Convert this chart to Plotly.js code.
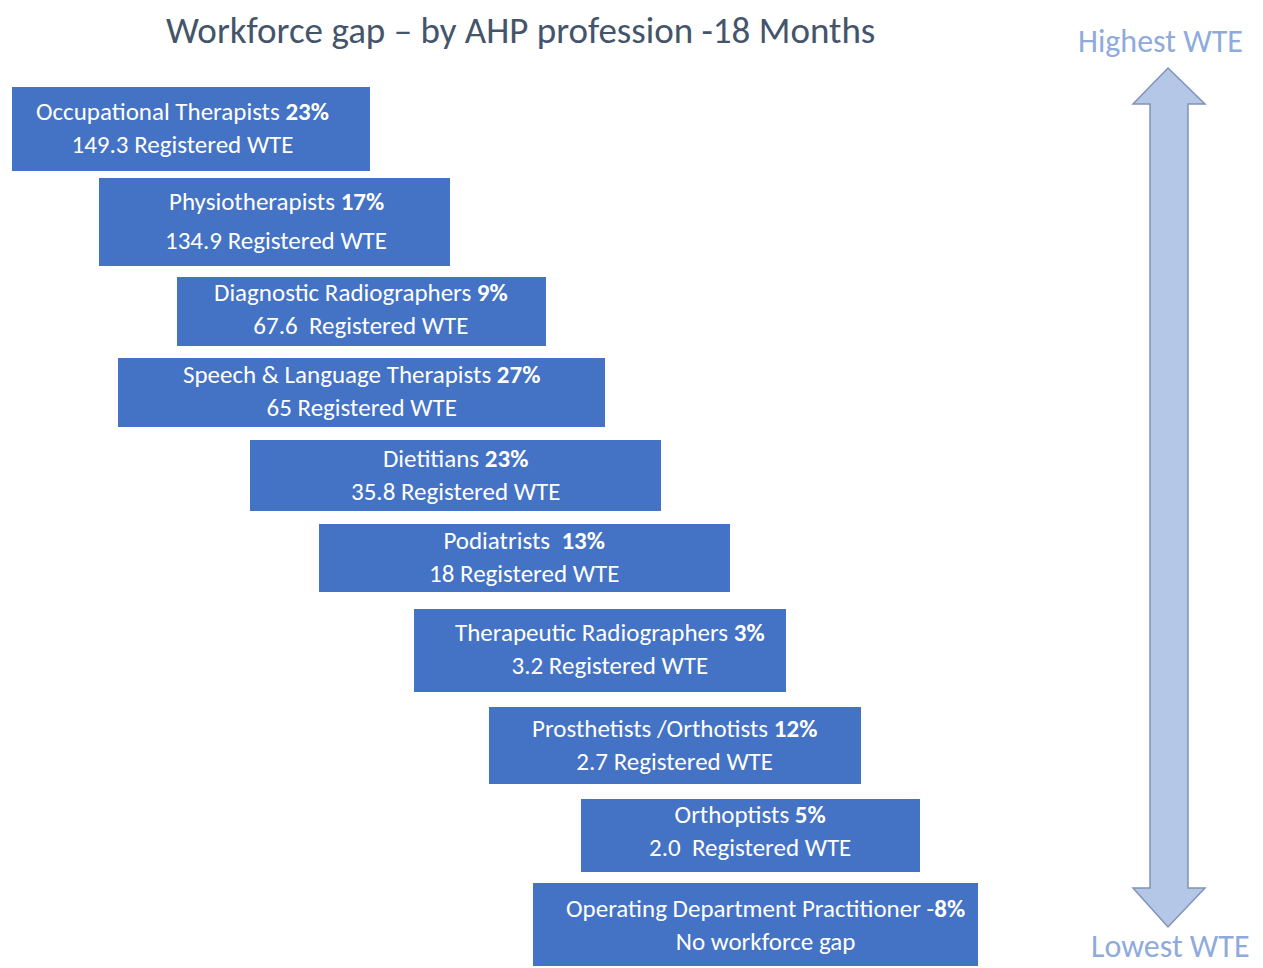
<!DOCTYPE html>
<html>
<head>
<meta charset="utf-8">
<script src="https://cdn.plot.ly/plotly-3.0.1.min.js"></script>
<style>
html,body{margin:0;padding:0;background:#fff;}
#chart{width:1263px;height:968px;}
</style>
</head>
<body>
<div id="chart"></div>
<script>
// ---- data ----
var professions = [
  "Occupational Therapists",
  "Physiotherapists",
  "Diagnostic Radiographers",
  "Speech & Language Therapists",
  "Dietitians",
  "Podiatrists ",
  "Therapeutic Radiographers",
  "Prosthetists /Orthotists",
  "Orthoptists",
  "Operating Department Practitioner"
];
var gapPct = [23, 17, 9, 27, 23, 13, 3, 12, 5, -8];
var registeredWte = ["149.3", "134.9", "67.6 ", "65", "35.8", "18", "3.2", "2.7", "2.0 ", null];
var noGapLabel = "No workforce gap";
var titleText = "Workforce gap \u2013 by AHP profession -18 Months";
var topLabel = "Highest WTE";
var bottomLabel = "Lowest WTE";

// ---- layout geometry (page pixels) ----
var boxLeft   = [12, 99, 177, 118, 250, 319, 414, 489, 581, 533];
var boxRight  = [370, 450, 546, 605, 661, 730, 786, 861, 920, 978];
var boxTop    = [87, 178, 277, 358, 440, 524, 609, 707, 799, 883];
var boxBottom = [171, 266, 346, 427, 511, 592, 692, 784, 872, 966];
var line1Y    = [112, 201, 295, 377, 459, 542, 632, 728, 814, 909];
var line2Y    = [144, 240, 323, 405, 491, 571, 665, 761, 847, 941];
var textX     = [182, 276, 361, 361, 455, 524, 610, 674, 750, 765];

var FONT = "Carlito, Lato, sans-serif";
var BLUE = "#4472c4";
var LABEL_SIZE = 25;

var centers = [], heights = [], widths = [];
for (var i = 0; i < professions.length; i++) {
  centers.push((boxTop[i] + boxBottom[i]) / 2);
  heights.push(boxBottom[i] - boxTop[i]);
  widths.push(boxRight[i] - boxLeft[i]);
}

var bars = {
  type: "bar",
  orientation: "h",
  y: centers,
  x: widths,
  base: boxLeft,
  width: heights,
  marker: {color: BLUE, line: {width: 0}},
  hovertext: professions,
  hoverinfo: "text",
  showlegend: false
};

var annotations = [];
for (var j = 0; j < professions.length; j++) {
  var pct = gapPct[j];
  var first = professions[j] + (pct < 0 ? " -<b>" + Math.abs(pct) + "%</b>" : " <b>" + pct + "%</b>");
  var second = registeredWte[j] === null ? noGapLabel : registeredWte[j] + " Registered WTE";
  var lf = {family: FONT, size: LABEL_SIZE, color: "#ffffff"};
  if (line2Y[j] - line1Y[j] >= 36) {
    annotations.push({x: textX[j], y: line1Y[j], xref: "x", yref: "y", text: first, showarrow: false,
      xanchor: "center", yanchor: "middle", borderpad: 0, font: lf});
    annotations.push({x: textX[j], y: line2Y[j], xref: "x", yref: "y", text: second, showarrow: false,
      xanchor: "center", yanchor: "middle", borderpad: 0, font: lf});
  } else {
    annotations.push({x: textX[j], y: (line1Y[j] + line2Y[j]) / 2, xref: "x", yref: "y",
      text: first + "<br>" + second, showarrow: false, align: "center",
      xanchor: "center", yanchor: "middle", borderpad: 0, font: lf});
  }
}
annotations.push({x: 520, y: 30, xref: "x", yref: "y", text: titleText, showarrow: false,
  xanchor: "center", yanchor: "middle", font: {family: FONT, size: 37, weight: 300, color: "#44546a"}});
annotations.push({x: 1160, y: 41, xref: "x", yref: "y", text: topLabel, showarrow: false,
  xanchor: "center", yanchor: "middle", font: {family: FONT, size: 32, color: "#8faadc"}});
annotations.push({x: 1170, y: 946, xref: "x", yref: "y", text: bottomLabel, showarrow: false,
  xanchor: "center", yanchor: "middle", borderpad: 0, font: {family: FONT, size: 32, color: "#8faadc"}});

// double-headed arrow (decoration)
var arrowPath = "M 1168 68 L 1205 104 L 1188 104 L 1188 888 L 1205 888 L 1168 927 L 1133 888 L 1150 888 L 1150 104 L 1133 104 Z";

var layout = {
  width: 1263, height: 968,
  margin: {l: 0, r: 0, t: 0, b: 0},
  paper_bgcolor: "#ffffff", plot_bgcolor: "#ffffff",
  xaxis: {range: [0, 1263], visible: false, fixedrange: true},
  yaxis: {range: [968, 0], visible: false, fixedrange: true},
  bargap: 0,
  shapes: [{type: "path", path: arrowPath, xref: "x", yref: "y",
    fillcolor: "#b4c7e7", line: {color: "#7f93b8", width: 1.5}}],
  annotations: annotations
};

Plotly.newPlot("chart", [bars], layout, {displayModeBar: false, staticPlot: true});
</script>
</body>
</html>
